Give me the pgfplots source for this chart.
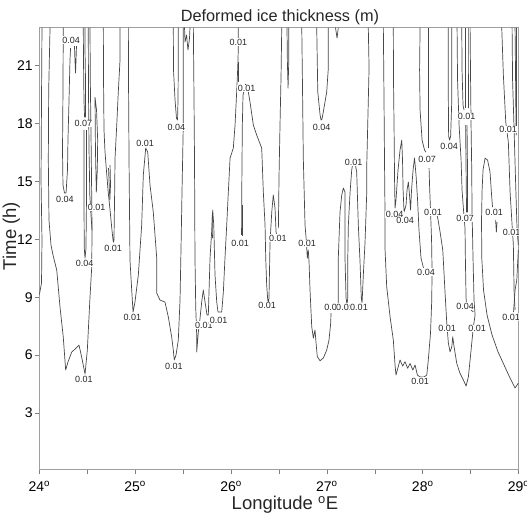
\documentclass[border=0pt]{standalone}
\usepackage{fontspec}
\setmainfont{Liberation Sans}
\usepackage{pgfplots}
\pgfplotsset{compat=1.18}
\usetikzlibrary{calc}
\pgfplotsset{ct/.style={color=black!72, line width=0.7pt, mark=none, line join=round}}
\tikzset{lab/.style={font=\fontsize{9}{10}\selectfont, fill=white, inner sep=0.4pt, text=black!85}}
\newcommand{\cl}[3]{\node[lab] at (axis cs:#1,#2) {#3};}
\begin{document}
\begin{tikzpicture}
\begin{axis}[
  scale only axis, width=479.3pt, height=441.6pt,
  xmin=24, xmax=29, ymin=0.09, ymax=22.95,
  xtick={24,25,26,27,28,29},
  xticklabels={24\textsuperscript{o},25\textsuperscript{o},26\textsuperscript{o},27\textsuperscript{o},28\textsuperscript{o},29\textsuperscript{o}},
  minor xtick={24.5,25.5,26.5,27.5,28.5},
  ytick={3,6,9,12,15,18,21},
  xtick pos=bottom, ytick pos=left,
  tick align=outside, major tick length=4.5pt, minor tick length=4.5pt,
  tick style={gray, line width=0.6pt},
  axis line style={gray!75, line width=0.6pt},
  ticklabel style={font=\fontsize{14}{16}\selectfont, inner sep=0pt},
  /pgf/number format/assume math mode=true,
  xticklabel style={yshift=-7pt},
  yticklabel style={xshift=-2pt},
]
% S1
\addplot[ct] coordinates {(24.028,22.95)(24.023,19.20)(24.018,15.06)(24.028,11.96)(24.023,9.73)(24.0,9.11)};
% S2 big U
\addplot[ct] coordinates {(24.112,22.95)(24.098,19.72)(24.094,16.10)(24.101,12.99)(24.122,11.70)(24.143,11.18)(24.182,10.40)(24.216,8.49)(24.250,6.94)(24.275,5.23)(24.299,5.64)(24.338,6.16)(24.372,6.31)(24.414,6.52)(24.442,5.90)(24.477,5.02)(24.501,6.26)(24.529,9.01)(24.547,10.56)(24.550,12.47)(24.545,15.06)(24.539,17.65)(24.532,20.24)(24.529,22.95)};
% S3
\addplot[ct] coordinates {(24.250,22.95)(24.247,19.72)(24.242,16.56)(24.247,14.80)(24.263,14.39)(24.279,14.39)(24.294,15.58)(24.299,17.13)(24.310,19.20)(24.320,21.27)(24.326,21.89)};
% S4
\addplot[ct] coordinates {(24.367,22.00)(24.372,21.27)(24.378,20.60)(24.383,21.27)(24.388,22.00)};
% S5
\addplot[ct] coordinates {(24.459,22.95)(24.461,21.27)(24.466,19.20)(24.472,18.32)(24.482,18.32)(24.482,20.24)(24.477,21.79)(24.477,22.95)};
% S6
\addplot[ct] coordinates {(24.466,17.65)(24.466,14.03)(24.469,11.54)(24.477,11.02)(24.487,11.54)(24.492,14.03)(24.492,17.65)};
% S7
\addplot[ct] coordinates {(24.511,22.95)(24.513,19.72)(24.519,16.56)(24.527,14.29)(24.539,13.25)(24.550,12.47)};
% S8
\addplot[ct] coordinates {(24.581,19.36)(24.586,16.56)(24.595,14.44)(24.605,15.58)(24.609,17.13)(24.597,18.69)(24.581,19.36)};
% S9
\addplot[ct] coordinates {(24.668,22.95)(24.670,20.24)(24.675,17.65)(24.685,16.56)(24.696,15.84)(24.717,14.54)(24.738,13.51)(24.758,12.47)(24.769,11.96)(24.774,11.85)(24.779,11.96)(24.785,14.03)(24.790,16.20)(24.808,17.91)(24.824,19.62)(24.842,21.27)(24.842,22.95)};
% S10
\addplot[ct] coordinates {(24.722,15.68)(24.736,14.03)(24.743,14.80)(24.738,15.84)};
% S11
\addplot[ct] coordinates {(24.929,22.95)(24.931,19.98)(24.936,16.10)(24.946,10.92)(24.964,9.37)(24.978,8.23)(24.998,8.75)(25.033,10.14)(25.068,12.73)(25.085,15.32)(25.110,16.72)(25.131,16.51)(25.155,14.80)(25.189,13.41)(25.207,12.22)(25.225,11.02)(25.225,9.21)(25.259,8.85)(25.311,8.75)(25.346,7.97)(25.381,6.94)(25.398,6.26)(25.408,5.75)(25.426,6.00)(25.450,6.78)(25.468,8.85)(25.478,11.44)(25.489,14.54)(25.502,17.91)(25.502,22.95)};
% S12
\addplot[ct] coordinates {(25.398,22.95)(25.400,20.76)(25.416,19.20)(25.431,18.27)(25.442,18.17)(25.447,19.20)(25.450,21.27)(25.450,22.95)};
% S13
\addplot[ct] coordinates {(25.515,22.95)(25.520,22.21)(25.536,22.57)(25.551,21.79)(25.567,22.41)(25.572,22.95)};
% S14
\addplot[ct] coordinates {(25.607,22.95)(25.614,19.20)(25.619,16.20)(25.624,11.02)(25.632,8.44)(25.642,7.04)(25.642,6.16)(25.659,7.19)(25.677,7.92)(25.694,8.75)(25.711,9.37)(25.729,8.75)(25.750,8.07)(25.763,8.07)(25.781,11.02)(25.799,12.47)(25.809,13.51)(25.820,12.73)(25.833,10.14)(25.851,8.75)(25.864,8.23)(25.903,8.23)(25.920,9.27)(25.937,11.02)(25.955,12.73)(25.972,14.44)(25.990,16.20)(26.024,16.72)(26.042,17.91)(26.059,19.62)(26.070,20.86)(26.076,21.89)(26.076,22.95)};
\addplot[ct] coordinates {(25.804,13.25)(25.806,12.06)};
\addplot[ct] coordinates {(26.081,21.17)(26.081,20.13)};
% S15
\addplot[ct] coordinates {(26.110,12.22)(26.112,14.44)(26.115,16.20)(26.118,17.91)(26.125,19.46)(26.151,20.03)(26.177,19.72)(26.198,19.10)(26.233,17.91)(26.268,17.39)(26.320,16.72)(26.337,14.44)(26.355,12.73)(26.362,11.02)(26.372,9.63)(26.383,8.85)(26.391,8.75)(26.396,8.95)(26.407,11.85)(26.425,13.41)(26.441,14.29)(26.459,13.61)(26.470,12.37)(26.480,12.16)};
\addplot[ct] coordinates {(26.118,13.77)(26.118,12.16)};
% S16
\addplot[ct] coordinates {(26.494,12.58)(26.501,15.32)(26.511,17.91)(26.522,20.50)(26.529,22.95)};
% S17
\addplot[ct] coordinates {(26.584,22.95)(26.588,21.17)(26.595,19.82)(26.602,21.17)(26.602,22.95)};
% S18
\addplot[ct] coordinates {(26.738,22.95)(26.746,19.72)(26.754,16.20)(26.772,12.73)(26.783,12.06)(26.790,11.54)(26.796,11.02)(26.806,11.44)(26.814,10.82)(26.824,9.37)(26.842,7.47)(26.859,6.88)(26.876,7.30)(26.887,6.63)(26.900,5.92)(26.929,5.71)(26.963,5.85)(26.998,6.26)(27.022,6.78)(27.040,7.66)(27.043,8.18)};
% P1
\addplot[ct] coordinates {(27.119,8.59)(27.119,11.02)(27.137,13.41)(27.155,14.29)(27.172,14.65)(27.189,14.44)(27.189,11.02)(27.200,8.95)(27.210,8.64)(27.218,8.95)(27.218,11.02)(27.224,12.73)(27.242,14.44)(27.259,15.58)(27.276,16.10)(27.294,15.94)(27.311,15.48)(27.328,12.73)(27.346,10.82)(27.359,8.95)(27.367,8.70)(27.380,10.14)(27.398,11.85)(27.416,14.44)(27.416,15.84)(27.426,17.91)(27.440,20.86)(27.432,22.95)};
% S19
\addplot[ct] coordinates {(26.894,22.95)(26.905,19.62)(26.929,18.43)(26.939,18.17)(26.949,18.22)(26.963,18.60)(26.998,19.62)(27.015,20.86)(27.015,22.95)};
% S20
\addplot[ct] coordinates {(27.090,22.95)(27.106,22.41)(27.119,22.95)};
% R1
\addplot[ct] coordinates {(27.693,22.95)(27.695,20.24)(27.701,17.65)(27.706,15.06)(27.711,13.61)(27.721,14.03)(27.742,15.58)(27.763,16.61)(27.781,17.13)(27.789,16.10)(27.795,14.54)(27.805,13.41)(27.826,13.77)(27.836,14.54)(27.850,14.96)(27.862,14.29)(27.873,13.51)(27.883,14.54)(27.899,15.58)(27.914,16.20)(27.930,15.32)(27.946,14.03)(27.961,12.47)(27.982,11.02)(28.008,10.51)};
% R2
\addplot[ct] coordinates {(27.589,22.95)(27.596,19.20)(27.601,16.10)(27.607,12.99)(27.607,11.44)(27.624,9.54)(27.659,7.99)(27.693,6.78)(27.711,5.49)(27.721,4.97)(27.763,5.75)(27.791,5.43)(27.815,5.66)(27.843,5.32)(27.868,5.57)(27.896,5.23)(27.920,5.49)(27.944,4.97)(27.972,4.87)(28.014,4.87)(28.042,4.97)(28.058,5.75)(28.081,7.14)(28.094,8.85)(28.097,10.40)(28.092,11.96)(28.081,13.51)(28.071,14.80)(28.066,15.68)};
% R3
\addplot[ct] coordinates {(27.972,22.95)(27.967,20.76)(27.972,18.69)(27.993,17.13)(28.019,16.61)(28.034,16.51)};
\addplot[ct, line width=1.5pt] coordinates {(28.061,16.70)(28.061,22.95)};
% R4
\addplot[ct] coordinates {(28.139,13.51)(28.160,12.99)(28.181,12.37)(28.209,11.44)(28.233,9.21)(28.250,7.71)(28.267,6.63)(28.285,6.17)(28.303,6.43)(28.313,6.95)(28.327,6.43)(28.355,5.57)(28.389,5.06)(28.424,4.71)(28.452,4.40)(28.476,4.88)(28.494,5.75)(28.511,6.61)(28.528,7.47)(28.546,8.07)(28.535,8.85)(28.525,10.92)(28.514,13.51)(28.511,15.58)(28.504,17.91)(28.499,20.24)(28.494,22.95)};
% R5
\addplot[ct] coordinates {(28.267,22.95)(28.267,19.20)(28.270,17.34)(28.280,17.13)(28.291,17.34)(28.303,19.20)(28.303,22.95)};
% R6
\addplot[ct] coordinates {(28.358,22.95)(28.363,20.24)(28.379,17.91)(28.400,16.10)(28.410,14.54)(28.430,13.20)(28.441,12.58)(28.445,10.92)(28.452,8.95)(28.460,8.50)(28.494,8.39)(28.528,8.23)};
% cluster
\addplot[ct] coordinates {(28.407,22.95)(28.410,20.76)(28.420,18.94)(28.431,18.69)};
\addplot[ct] coordinates {(28.441,22.95)(28.441,18.79)};
\addplot[ct] coordinates {(28.476,22.95)(28.476,20.76)(28.478,18.79)};
\addplot[ct] coordinates {(28.447,17.91)(28.452,15.58)(28.457,13.41)(28.467,13.41)(28.467,15.58)(28.462,17.91)};
% R8
\addplot[ct] coordinates {(28.997,4.55)(28.963,4.30)(28.911,4.81)(28.848,5.49)(28.786,6.16)(28.723,7.04)(28.671,8.07)(28.634,9.37)(28.616,11.02)(28.613,12.99)(28.619,14.54)(28.629,15.58)(28.650,16.20)(28.676,16.10)(28.702,15.48)(28.718,14.29)(28.728,13.66)};
\addplot[ct] coordinates {(28.760,12.99)(28.768,12.37)(28.775,12.89)};
% R9
\addplot[ct] coordinates {(28.824,22.95)(28.841,20.50)(28.866,18.06)(28.880,17.50)(28.893,17.03)(28.911,14.44)(28.929,12.99)(28.937,12.30)(28.945,11.75)(28.953,9.27)(28.963,8.33)};
% R10
\addplot[ct] coordinates {(28.947,8.23)(28.963,9.37)(28.981,9.89)(28.997,11.44)};
% R11
\addplot[ct] coordinates {(28.932,22.95)(28.937,20.24)(28.953,17.65)(28.968,15.06)(28.984,12.47)(28.997,11.70)};
% R12
\addplot[ct] coordinates {(28.963,22.95)(28.968,20.50)(28.974,17.39)(28.979,17.60)(28.979,20.50)(28.979,22.95)};
% contour labels
\cl{24.331}{22.31}{0.04}
\cl{24.461}{18.01}{0.07}
\cl{24.268}{14.08}{0.04}
\cl{24.597}{13.66}{0.01}
\cl{24.769}{11.54}{0.01}
\cl{24.472}{10.77}{0.04}
\cl{24.466}{4.76}{0.01}
\cl{24.972}{7.97}{0.01}
\cl{25.103}{16.98}{0.01}
\cl{25.405}{5.43}{0.01}
\cl{25.431}{17.81}{0.04}
\cl{26.076}{22.21}{0.01}
\cl{26.162}{19.82}{0.01}
\cl{26.094}{11.80}{0.01}
\cl{25.718}{7.56}{0.01}
\cl{25.870}{7.82}{0.01}
\cl{26.376}{8.59}{0.01}
\cl{26.490}{12.06}{0.01}
\cl{26.793}{11.80}{0.01}
\cl{26.944}{17.78}{0.04}
\cl{27.278}{15.99}{0.01}
\cl{27.064}{8.49}{0.01}
\cl{27.189}{8.49}{0.01}
\cl{27.335}{8.49}{0.01}
\cl{27.706}{13.30}{0.04}
\cl{27.815}{12.99}{0.04}
\cl{28.045}{16.15}{0.07}
\cl{28.034}{10.30}{0.04}
\cl{27.972}{4.66}{0.01}
\cl{28.107}{13.41}{0.01}
\cl{28.274}{16.82}{0.04}
\cl{28.457}{18.37}{0.01}
\cl{28.441}{13.10}{0.07}
\cl{28.441}{8.54}{0.04}
\cl{28.254}{7.40}{0.01}
\cl{28.567}{7.40}{0.01}
\cl{28.744}{13.41}{0.01}
\cl{28.890}{17.70}{0.01}
\cl{28.927}{12.37}{0.01}
\cl{28.921}{7.97}{0.01}
\end{axis}
\node[font=\fontsize{16.3}{18}\selectfont, anchor=base, text=black!85] at ($(current axis.north)+(1pt,6pt)$) {Deformed ice thickness (m)};
\node[font=\fontsize{18.5}{20}\selectfont, anchor=base, text=black!85] at ($(current axis.south)+(6pt,-40.5pt)$) {Longitude \textsuperscript{o}E};
\node[font=\fontsize{18.5}{20}\selectfont, anchor=base, rotate=90, text=black!85] at ($(current axis.west)+(-23.3pt,12.5pt)$) {Time (h)};
\pgfresetboundingbox
\path ($(current axis.south west)+(-39.3pt,-46.7pt)$) rectangle ($(current axis.north east)+(8.4pt,27.7pt)$);
\end{tikzpicture}
\end{document}
